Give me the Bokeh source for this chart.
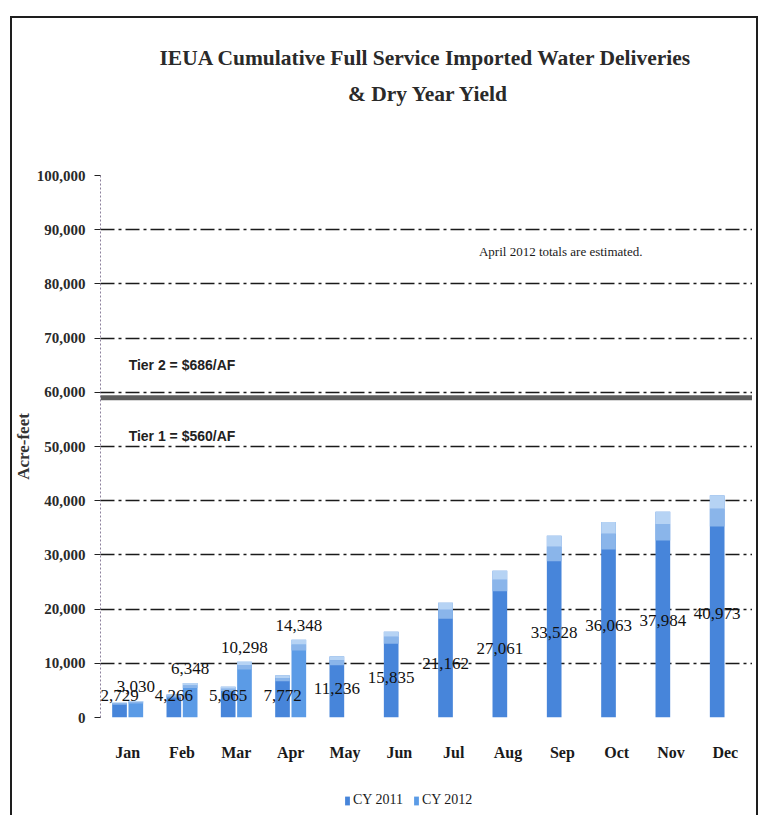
from bokeh.plotting import figure
from bokeh.layouts import column
from bokeh.models import (FactorRange, Range1d, ColumnDataSource, LabelSet, Label, Span,
                          Legend, LegendItem, NumeralTickFormatter, FixedTicker, InlineStyleSheet)
from bokeh.transform import dodge
from bokeh.embed import file_html
from bokeh.resources import INLINE
from bokeh.core.properties import value

# ---------------- data ----------------
months = ["Jan", "Feb", "Mar", "Apr", "May", "Jun", "Jul", "Aug", "Sep", "Oct", "Nov", "Dec"]
cy2011 = [2729, 4266, 5665, 7772, 11236, 15835, 21162, 27061, 33528, 36063, 37984, 40973]
cy2012 = [3030, 6348, 10298, 14348]          # Jan-Apr only
series_names = ["CY 2011", "CY 2012"]
y_ticks = [0, 10000, 20000, 30000, 40000, 50000, 60000, 70000, 80000, 90000, 100000]
tier_threshold = 59000
tier_texts = ["Tier 2 = $686/AF", "Tier 1 = $560/AF"]
title_lines = ["IEUA Cumulative  Full Service Imported Water Deliveries", "& Dry Year Yield"]
note_text = "April 2012 totals  are estimated."
y_label = "Acre-feet"

SERIF = "Liberation Serif"
NARROW = "Liberation Sans Narrow, Liberation Sans, Arial Narrow, sans-serif"
C2011 = "#4785da"
C2012 = "#5b9be6"
TOP1, TOP2 = "#8ab5ea", "#b6d3f4"
FULL_W = 752
LEFT = 100   # left border shared (aligned) by all three stacked figures


def center_of(m):
    # synthetic coordinate of a month's centre on the categorical axis
    return months.index(m) + 0.5


def blank_fig(h):
    f = figure(width=FULL_W, height=h, x_range=Range1d(0, 1), y_range=Range1d(0, 1),
               x_axis_type=None, y_axis_type=None, output_backend="svg", toolbar_location=None,
               min_border_left=LEFT, min_border_right=0, min_border_top=0, min_border_bottom=0,
               background_fill_color="white", border_fill_color="white")
    f.outline_line_color = None
    f.xgrid.grid_line_color = None
    f.ygrid.grid_line_color = None
    return f


# ================= title strip =================
top = blank_fig(163)
top.add_layout(Label(x=328, y=106, x_units="screen", y_units="screen", text=title_lines[0],
                     text_align="center", text_baseline="middle", text_font=SERIF,
                     text_font_style="bold", text_font_size="21.5px", text_color="#2a2a2a"))
top.add_layout(Label(x=328, y=70, x_units="screen", y_units="screen", text=title_lines[1],
                     text_align="center", text_baseline="middle", text_font=SERIF,
                     text_font_style="bold", text_font_size="21.5px", text_color="#2a2a2a"))

# ================= main chart =================
p = figure(x_range=FactorRange(*months), y_range=Range1d(0, 100000),
           width=FULL_W, height=600, output_backend="svg", toolbar_location=None,
           min_border_left=LEFT, min_border_right=0, min_border_top=12, min_border_bottom=40,
           background_fill_color="white", border_fill_color="white")
p.outline_line_color = None

src11 = ColumnDataSource(dict(month=months, val=cy2011,
                              h1=[v * 0.86 for v in cy2011], h2=[v * 0.94 for v in cy2011],
                              ly=[max(v * 0.47, 4000) for v in cy2011],
                              txt=[f"{v:,}" for v in cy2011]))
src12 = ColumnDataSource(dict(month=months[:len(cy2012)], val=cy2012,
                              h1=[v * 0.86 for v in cy2012], h2=[v * 0.94 for v in cy2012],
                              txt=[f"{v:,}" for v in cy2012]))

W = 0.27
OFF = 0.15
for src, off, col in ((src11, -OFF, C2011), (src12, OFF, C2012)):
    xx = dodge("month", off, range=p.x_range)
    p.vbar(x=xx, top="val", bottom=0, width=W, source=src, fill_color=col, line_color=None)
    p.vbar(x=xx, top="h2", bottom="h1", width=W, source=src, fill_color=TOP1, line_color=None)
    p.vbar(x=xx, top="val", bottom="h2", width=W, source=src, fill_color=TOP2, line_color=None)

# value labels
p.add_layout(LabelSet(x=dodge("month", -OFF, range=p.x_range), y="ly", text="txt", source=src11,
                      text_align="center", text_baseline="middle", text_font=value(SERIF),
                      text_font_size="17px", text_color="#111111"))
p.add_layout(LabelSet(x=dodge("month", OFF, range=p.x_range), y="val", text="txt", source=src12,
                      text_align="center", text_baseline="bottom", y_offset=9, text_font=value(SERIF),
                      text_font_size="17px", text_color="#111111"))

# tier line & texts
p.add_layout(Span(location=tier_threshold, dimension="width", line_color="#5c5c5c", line_width=5))
p.add_layout(Label(x=center_of("Feb"), y=tier_threshold + 6000, text=tier_texts[0], text_align="center",
                   text_baseline="middle", text_font=NARROW, text_font_style="bold",
                   text_font_size="14px", text_color="#222222"))
p.add_layout(Label(x=center_of("Feb"), y=tier_threshold - 7000, text=tier_texts[1], text_align="center",
                   text_baseline="middle", text_font=NARROW, text_font_style="bold",
                   text_font_size="14px", text_color="#222222"))
p.add_layout(Label(x=center_of("Sep"), y=86000, text=note_text, text_align="center", text_baseline="middle",
                   text_font=SERIF, text_font_size="13px", text_color="#1a1a1a"))

# axes & grid
p.yaxis.ticker = FixedTicker(ticks=y_ticks)
p.yaxis.formatter = NumeralTickFormatter(format="0,0")
p.yaxis.major_label_text_font = SERIF
p.yaxis.major_label_text_font_style = "bold"
p.yaxis.major_label_text_font_size = "15px"
p.yaxis.major_label_text_color = "#2a2a2a"
p.yaxis.major_label_standoff = 9
p.yaxis.major_tick_out = 6
p.yaxis.major_tick_in = 0
p.yaxis.major_tick_line_color = "#222222"
p.yaxis.minor_tick_line_color = None
p.yaxis.axis_line_color = "#8c819c"
p.yaxis.axis_line_dash = "2 2"
p.yaxis.axis_label = y_label
p.yaxis.axis_label_text_font = SERIF
p.yaxis.axis_label_text_font_style = "bold"
p.yaxis.axis_label_text_font_size = "17px"
p.yaxis.axis_label_text_color = "#333333"
p.yaxis.axis_label_standoff = 1

p.xaxis.major_label_text_font = SERIF
p.xaxis.major_label_text_font_style = "bold"
p.xaxis.major_label_text_font_size = "16px"
p.xaxis.major_label_text_color = "#1a1a1a"
p.xaxis.major_label_standoff = 20
p.xaxis.major_tick_line_color = None
p.xaxis.axis_line_color = None

p.xgrid.grid_line_color = None
p.ygrid.grid_line_color = "#1a1a1a"
p.ygrid.grid_line_dash = "14 4 3 4"
p.ygrid.grid_line_width = 1.3

# ================= legend strip =================
bot = blank_fig(52)
# legend swatch renderers: a zero-height placeholder row each (draws nothing in the strip)
swatch = ColumnDataSource(dict(x=[0.5], top=[0]))
lr11 = bot.vbar(x="x", top="top", bottom=0, width=0.0, source=swatch, fill_color=C2011, line_color=None)
lr12 = bot.vbar(x="x", top="top", bottom=0, width=0.0, source=swatch, fill_color=C2012, line_color=None)
legend = Legend(items=[LegendItem(label=series_names[0], renderers=[lr11], index=0),
                       LegendItem(label=series_names[1], renderers=[lr12], index=0)],
                orientation="horizontal", location=(244, 7),
                label_text_font=SERIF, label_text_font_size="14px", label_text_color="#1a1a1a",
                glyph_width=6, glyph_height=11, label_standoff=3, spacing=10,
                border_line_color=None, background_fill_alpha=0, margin=0, padding=4)
bot.add_layout(legend, "center")

layout = column(top, p, bot, spacing=0)
layout.stylesheets = [InlineStyleSheet(css="""
:host { position: relative; overflow: visible; }
:host::after { content: ''; position: absolute; left: 10px; top: 16px; width: 744px; height: 797px;
  border-left: 2px solid #1e1e1e; border-top: 2px solid #1e1e1e; border-right: 2px solid #1e1e1e;
  pointer-events: none; z-index: 50; }
""")]

open("out.html", "w").write(file_html(layout, INLINE))
